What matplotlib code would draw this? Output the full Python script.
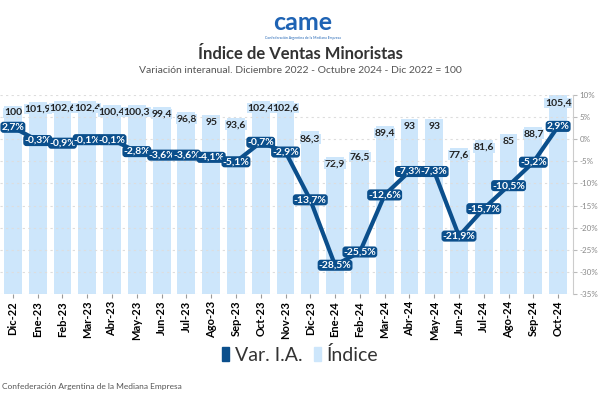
import matplotlib.pyplot as plt
from matplotlib.patches import Patch

plt.rcParams['font.family'] = ['Lato', 'DejaVu Sans']

meses = ['Dic-22', 'Ene-23', 'Feb-23', 'Mar-23', 'Abr-23', 'May-23', 'Jun-23', 'Jul-23',
         'Ago-23', 'Sep-23', 'Oct-23', 'Nov-23', 'Dic-23', 'Ene-24', 'Feb-24', 'Mar-24',
         'Abr-24', 'May-24', 'Jun-24', 'Jul-24', 'Ago-24', 'Sep-24', 'Oct-24']
indice = [100, 101.9, 102.6, 102.4, 100.4, 100.3, 99.4, 96.8, 95, 93.6, 102.4, 102.6,
          86.3, 72.9, 76.5, 89.4, 93, 93, 77.6, 81.6, 85, 88.7, 105.4]
var_ia = [2.7, -0.3, -0.9, -0.1, -0.1, -2.8, -3.6, -3.6, -4.1, -5.1, -0.7, -2.9,
          -13.7, -28.5, -25.5, -12.6, -7.3, -7.3, -21.9, -15.7, -10.5, -5.2, 2.9]
pct_ticks = [10, 5, 0, -5, -10, -15, -20, -25, -30, -35]

BAR = '#cde6fb'
LINE = '#0b4f8c'


def fmt(v):
    s = f'{v:g}'
    return s.replace('.', ',')


fig = plt.figure(figsize=(6, 4), dpi=100)
ax = fig.add_axes([0.0, 0.265, 0.955, 0.4975])
x = list(range(len(meses)))

ax.bar(x, indice, width=0.72, color=BAR, zorder=1)
ax.set_ylim(0, 105.6)
ax.set_xlim(-0.52, 22.6)
ax.set_yticks([])
for s in ['top', 'left', 'right', 'bottom']:
    ax.spines[s].set_visible(False)
ax.set_xticks(x)
ax.set_xticklabels(meses, rotation=90, fontsize=8, fontweight='bold')
ax.tick_params(axis='x', length=3, color='#999999', pad=2)

for xi, v in zip(x, indice):
    ax.text(xi, v - 1.5, fmt(v), ha='center', va='top', fontsize=7.5,
            fontweight='bold', color='#222222', zorder=2,
            bbox=dict(boxstyle='square,pad=0.05', fc=BAR, ec='none'))

ax2 = ax.twinx()
ax2.set_ylim(-35, 10)
ax2.set_yticks(pct_ticks)
ax2.set_yticklabels([f'{t}%' for t in pct_ticks], fontsize=5.8, color='#888888')
ax2.tick_params(axis='y', length=3, color='#bbbbbb', pad=1.5)
for s in ['top', 'left', 'bottom']:
    ax2.spines[s].set_visible(False)
ax2.spines['right'].set_color('#cccccc')
ax2.grid(axis='y', linestyle=(0, (2, 3)), color='#dddddd', linewidth=0.8, zorder=0)
ax2.set_zorder(ax.get_zorder() + 1)
ax2.patch.set_visible(False)

ax2.plot(x, var_ia, color=LINE, linewidth=3, zorder=3)
for xi, v in zip(x, var_ia):
    ax2.text(xi, v, fmt(v) + '%', ha='center', va='center', fontsize=7.5,
             fontweight='bold', color='white', zorder=4,
             bbox=dict(boxstyle='round,pad=0.1,rounding_size=0.3', fc=LINE, ec='none'))

# logo y titulos
fig.text(0.505, 0.945, 'came', ha='center', va='center', fontsize=18,
         fontweight='bold', color='#1e63b4')
fig.text(0.505, 0.905, 'Confederación Argentina de la Mediana Empresa', ha='center',
         va='center', fontsize=2.5, color='#1e63b4')
fig.text(0.5, 0.866, 'Índice de Ventas Minoristas', ha='center', va='center',
         fontsize=12, fontweight='bold', color='#333333')
fig.text(0.5, 0.823, 'Variación interanual. Diciembre 2022 - Octubre 2024 - Dic 2022 = 100',
         ha='center', va='center', fontsize=7.5, color='#555555')

handles = [Patch(color=LINE, label='Var. I.A.'), Patch(color=BAR, label='Índice')]
fig.legend(handles=handles, loc='center', bbox_to_anchor=(0.5, 0.113), ncol=2,
           frameon=False, fontsize=14, handlelength=0.35, handleheight=0.8,
           handletextpad=0.3, columnspacing=0.6, labelcolor='#333333')

fig.text(0.003, 0.035, 'Confederación Argentina de la Mediana Empresa', ha='left',
         va='center', fontsize=6, color='#555555')

fig.savefig('out.png', dpi=100)
